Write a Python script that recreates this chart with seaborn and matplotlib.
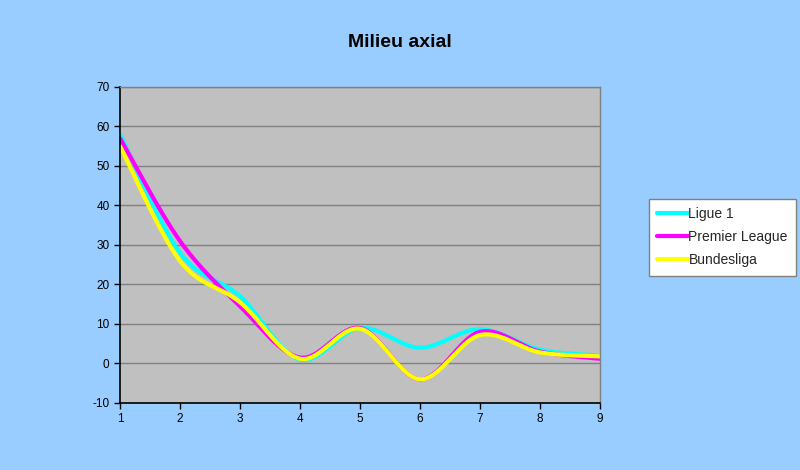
import numpy as np
import pandas as pd
import matplotlib
matplotlib.use("Agg")
import matplotlib.pyplot as plt
import seaborn as sns

# Milieu axial, three leagues, positions 1..9
positions = [1, 2, 3, 4, 5, 6, 7, 8, 9]
ligue1 = [58, 28, 17, 1, 9, 4, 8.7, 3.5, 2]
premier_league = [57, 31, 14.5, 1.5, 9, -4, 8, 3, 1.2]
bundesliga = [55, 26, 15.5, 1.2, 8.8, -4, 7.2, 2.8, 1.8]
series_names = ["Ligue 1", "Premier League", "Bundesliga"]
series_colors = ["#00FFFF", "#FF00FF", "#FFFF00"]


def smooth(xs, ys, n=40):
    """Bezier smoothing through every point (Catmull-Rom style control points)."""
    xs = np.asarray(xs, float)
    ys = np.asarray(ys, float)
    px = np.concatenate([[xs[0]], xs, [xs[-1]]])
    py = np.concatenate([[ys[0]], ys, [ys[-1]]])
    out_x, out_y = [], []
    t = np.linspace(0, 1, n)
    for i in range(1, len(px) - 2):
        p0 = np.array([px[i - 1], py[i - 1]])
        p1 = np.array([px[i], py[i]])
        p2 = np.array([px[i + 1], py[i + 1]])
        p3 = np.array([px[i + 2], py[i + 2]])
        c1 = p1 + (p2 - p0) / 6
        c2 = p2 - (p3 - p1) / 6
        b = ((1 - t) ** 3)[:, None] * p1 + (3 * (1 - t) ** 2 * t)[:, None] * c1 \
            + (3 * (1 - t) * t ** 2)[:, None] * c2 + (t ** 3)[:, None] * p2
        if i > 1:
            b = b[1:]
        out_x.extend(b[:, 0])
        out_y.extend(b[:, 1])
    return out_x, out_y


frames = []
for name, vals in zip(series_names, [ligue1, premier_league, bundesliga]):
    sx, sy = smooth(positions, vals)
    frames.append(pd.DataFrame({"x": sx, "y": sy, "Série": name}))
df = pd.concat(frames, ignore_index=True)

sns.set_theme(style="white")
plt.rcParams["font.family"] = ["Liberation Sans", "DejaVu Sans"]
plt.rcParams["axes.unicode_minus"] = False

fig = plt.figure(figsize=(8, 4.7), dpi=100)
fig.patch.set_facecolor("#99CCFF")
ax = fig.add_axes([0.15, 0.1426, 0.60, 0.6723])
ax.set_facecolor("#C0C0C0")

sns.lineplot(data=df, x="x", y="y", hue="Série", palette=series_colors,
             hue_order=series_names, sort=False, estimator=None,
             linewidth=3, ax=ax, legend=False)

ax.set_xlim(1, 9)
ax.set_ylim(-10, 70)
ax.set_xticks(positions)
ax.set_yticks(range(-10, 71, 10))
ax.grid(axis="y", color="#808080", linewidth=1)
ax.set_axisbelow(True)
ax.set_xlabel("")
ax.set_ylabel("")
ax.tick_params(axis="both", labelsize=8.5, colors="black", length=4, width=1,
               direction="out", bottom=True, left=True)
for side in ["top", "right"]:
    ax.spines[side].set_color("#808080")
    ax.spines[side].set_linewidth(1)
for side in ["left", "bottom"]:
    ax.spines[side].set_color("black")
    ax.spines[side].set_linewidth(1.2)

fig.text(0.5, 0.91, "Milieu axial", ha="center", va="center",
         fontsize=14, fontweight="bold", color="black")

handles = [plt.Line2D([], [], color=c, linewidth=3) for c in series_colors]
leg = fig.legend(handles, series_names, loc="upper left",
                 bbox_to_anchor=(0.811, 0.577), frameon=True, fontsize=10,
                 handlelength=2.2, handletextpad=0.05, labelspacing=0.65,
                 borderpad=0.6, fancybox=False, borderaxespad=0,
                 framealpha=1)
leg.get_frame().set_facecolor("white")
leg.get_frame().set_edgecolor("#808080")
leg.get_frame().set_linewidth(1)

fig.savefig("out.png", dpi=100, facecolor=fig.get_facecolor())
